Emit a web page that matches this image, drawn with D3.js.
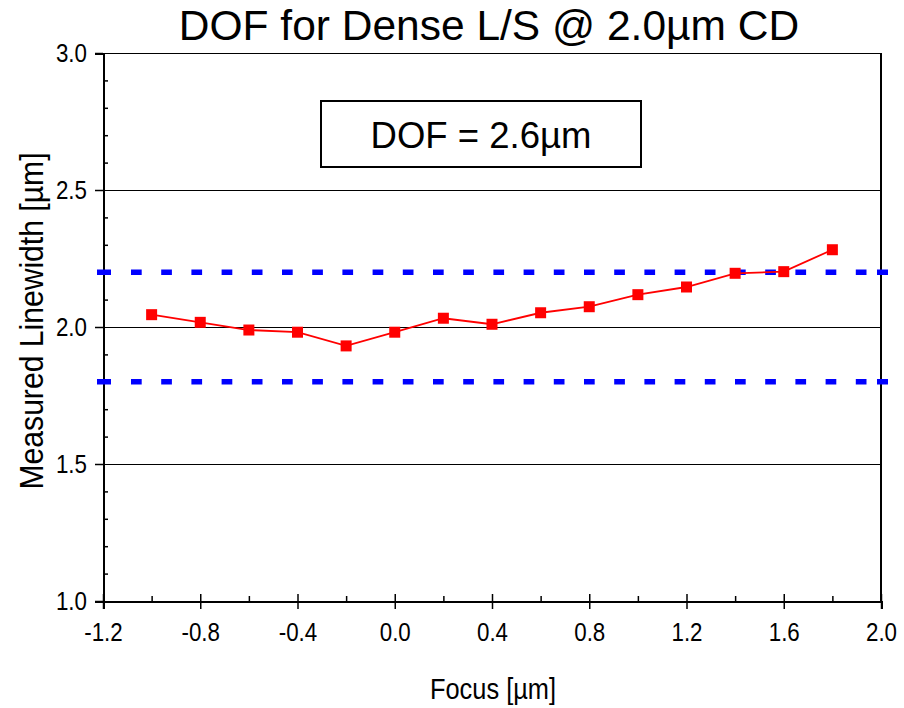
<!DOCTYPE html>
<html>
<head>
<meta charset="utf-8">
<script src="https://cdn.jsdelivr.net/npm/d3@7"></script>
<style>
  html, body { margin: 0; padding: 0; background: #fff; }
  svg { display: block; }
  text { font-family: "Liberation Sans", Arial, sans-serif; fill: #000; }
</style>
</head>
<body>
<svg id="chart" width="904" height="708"></svg>
<script>
// ---- data ----
const titleText = "DOF for Dense L/S @ 2.0\u00b5m CD";
const xLabel = "Focus [\u00b5m]";
const yLabel = "Measured Linewidth [\u00b5m]";
const annotation = "DOF = 2.6\u00b5m";
const focus = [-1.0, -0.8, -0.6, -0.4, -0.2, 0.0, 0.2, 0.4, 0.6, 0.8, 1.0, 1.2, 1.4, 1.6, 1.8];
const linewidth = [2.045, 2.017, 1.989, 1.981, 1.931, 1.981, 2.032, 2.010, 2.052, 2.074, 2.118, 2.146, 2.196, 2.202, 2.282];
const specLimits = [2.2, 1.8];
const xTicks = [-1.2, -0.8, -0.4, 0.0, 0.4, 0.8, 1.2, 1.6, 2.0];
const xMinorTicks = [-1.0, -0.6, -0.2, 0.2, 0.6, 1.0, 1.4, 1.8];
const yTicks = [1.0, 1.5, 2.0, 2.5, 3.0];
const yMinorTicks = [1.1, 1.2, 1.3, 1.4, 1.6, 1.7, 1.8, 1.9, 2.1, 2.2, 2.3, 2.4, 2.6, 2.7, 2.8, 2.9];

// ---- layout ----
const svg = d3.select("#chart");
const L = 103, R = 881, T = 53, B = 601;
const x = d3.scaleLinear().domain([-1.2, 2.0]).range([L, R]);
const y = d3.scaleLinear().domain([1.0, 3.0]).range([B, T]);
const fmt = d => d.toFixed(1);
const sx = 0.86;

// gridlines
svg.append("g").attr("shape-rendering", "crispEdges")
  .selectAll("line").data(yTicks.filter(d => d > 1.0)).join("line")
  .attr("x1", L).attr("x2", R).attr("y1", d => y(d) + 0.5).attr("y2", d => y(d) + 0.5)
  .attr("stroke", "#000").attr("stroke-width", 1);

// right border
svg.append("line").attr("x1", R).attr("x2", R).attr("y1", T).attr("y2", B)
  .attr("stroke", "#000").attr("stroke-width", 2).attr("shape-rendering", "crispEdges");

// y axis
const yAxis = svg.append("g").attr("transform", `translate(${L},0)`)
  .call(d3.axisLeft(y).tickValues(yTicks).tickFormat(fmt).tickSize(8).tickPadding(8));
yAxis.select(".domain").attr("stroke-width", 2).attr("shape-rendering", "crispEdges");
yAxis.selectAll(".tick line").attr("stroke-width", 1.5);
yAxis.selectAll(".tick text").attr("font-size", 26).attr("font-family", "Liberation Sans, Arial, sans-serif")
  .attr("x", -16 / sx).attr("transform", `scale(${sx},1)`);
svg.append("g").attr("transform", `translate(${L},0)`)
  .call(d3.axisRight(y).tickValues(yMinorTicks).tickSize(5).tickFormat(""))
  .call(g => g.select(".domain").remove())
  .selectAll(".tick line").attr("stroke-width", 1.5);

// x axis
const xAxis = svg.append("g").attr("transform", `translate(0,${B})`)
  .call(d3.axisBottom(x).tickValues(xTicks).tickFormat(fmt).tickSize(8).tickPadding(14));
xAxis.select(".domain").attr("stroke-width", 2).attr("shape-rendering", "crispEdges");
xAxis.selectAll(".tick line").attr("y1", -7).attr("stroke-width", 1.5);
xAxis.selectAll(".tick text").attr("font-size", 26).attr("font-family", "Liberation Sans, Arial, sans-serif")
  .attr("transform", `scale(${sx},1)`);
svg.append("g").attr("transform", `translate(0,${B})`)
  .call(d3.axisTop(x).tickValues(xMinorTicks).tickSize(5).tickFormat(""))
  .call(g => g.select(".domain").remove())
  .selectAll(".tick line").attr("stroke-width", 1.5);

// spec limit dashed lines
function dashPattern(x0, x1) {
  const pat = [14, 20];
  let pos = x0 + 34;
  const period = 30.2, dash = 10.7;
  while (pos + period < x1 - 20) { pat.push(dash, period - dash); pos += period; }
  pat.push(dash, (x1 - 11) - (pos + dash), 11, 10);
  return pat.join(" ");
}
const dx0 = x(-1.2) - 6, dx1 = x(2.0) + 7;
svg.append("g").selectAll("line").data(specLimits).join("line")
  .attr("x1", dx0).attr("x2", dx1).attr("y1", d => y(d)).attr("y2", d => y(d))
  .attr("stroke", "#0000ff").attr("stroke-width", 5.5)
  .attr("stroke-dasharray", dashPattern(dx0, dx1));

// data line
svg.append("path").datum(focus.map((f, i) => [f, linewidth[i]]))
  .attr("fill", "none").attr("stroke", "#ff0000").attr("stroke-width", 1.8)
  .attr("d", d3.line().x(d => x(d[0])).y(d => y(d[1])));
svg.append("g").selectAll("rect").data(focus).join("rect")
  .attr("x", (d) => x(d) - 5.5).attr("y", (d, i) => y(linewidth[i]) - 5.5)
  .attr("width", 11).attr("height", 11).attr("fill", "#ff0000");

// annotation box
svg.append("rect").attr("x", 321).attr("y", 101).attr("width", 320).attr("height", 66)
  .attr("fill", "#fff").attr("stroke", "#000").attr("stroke-width", 2);
svg.append("text").attr("x", 481).attr("y", 148).attr("text-anchor", "middle")
  .attr("font-size", 36.5).text(annotation);

// title
svg.append("text").attr("x", 489).attr("y", 40).attr("text-anchor", "middle")
  .attr("font-size", 42.5).text(titleText);

// axis labels
svg.append("text").attr("x", 493).attr("y", 699).attr("text-anchor", "middle")
  .attr("font-size", 30).attr("textLength", 126).attr("lengthAdjust", "spacingAndGlyphs").text(xLabel);
svg.append("text").attr("transform", "translate(43,321) rotate(-90)").attr("text-anchor", "middle")
  .attr("font-size", 34).attr("textLength", 337).attr("lengthAdjust", "spacingAndGlyphs").text(yLabel);
</script>
</body>
</html>
